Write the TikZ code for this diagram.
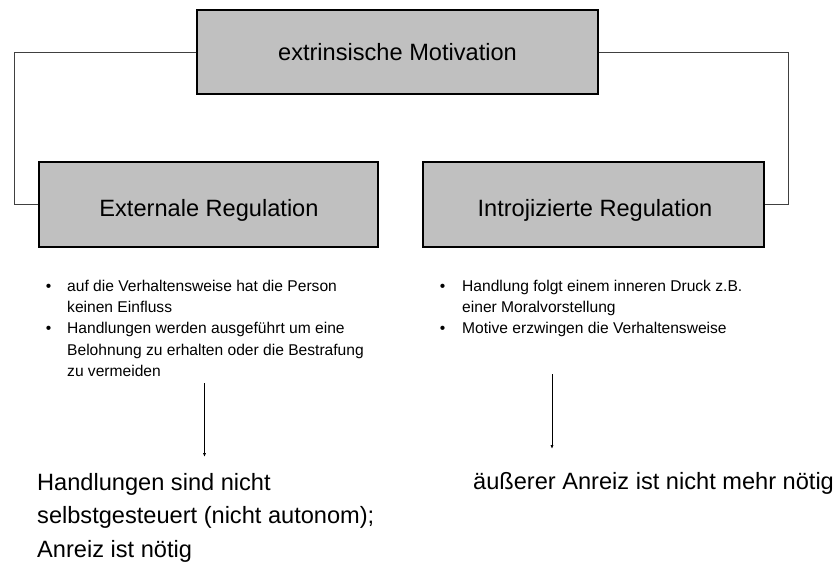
\documentclass[tikz,border=0pt]{standalone}
\usepackage{fontspec}
\setmainfont{Liberation Sans}
\usetikzlibrary{arrows.meta}
\definecolor{boxgray}{HTML}{C0C0C0}
\definecolor{linkgray}{HTML}{404040}
\begin{document}
\begin{tikzpicture}[x=1pt,y=-1pt,
  box/.style={draw=black, line width=1.1pt, fill=boxgray, inner sep=0},
  link/.style={draw=linkgray, line width=1pt},
  big/.style={font=\fontsize{23.6}{34}\selectfont, inner sep=0, anchor=base west},
  bigc/.style={font=\fontsize{23.6}{34}\selectfont, inner sep=0, anchor=base},
  small/.style={font=\fontsize{15.6}{21.4}\selectfont, inner sep=0, anchor=base west},
  dot/.style={font=\fontsize{15.6}{21.4}\selectfont, inner sep=0, anchor=base},
  arr/.style={-{Latex[length=4pt,width=3.2pt]}, line width=0.9pt, draw=black}
]
\useasboundingbox (0,0) rectangle (840,563);

% boxes
\node[box, minimum width=401pt, minimum height=84pt] (top) at (397.5,52) {};
\node[box, minimum width=339pt, minimum height=85pt] (ext) at (208.5,204.5) {};
\node[box, minimum width=341pt, minimum height=85pt] (intro) at (593.5,204.5) {};

% box titles
\node[bigc] (topT) at (397.5,60) {extrinsische Motivation};
\node[bigc] (extT) at (209,216) {Externale Regulation};
\node[bigc] (introT) at (595,216) {Introjizierte Regulation};

% bracket connectors
\draw[link] (top.west) -- ++(-182,0) |- (ext.west);
\draw[link] (top.east) -- ++(190,0) |- (intro.east);

% left bullet list
\node[dot] (lb1) at (48.5,291.5) {•};
\node[small] (l1a) at (67,291.5) {auf die Verhaltensweise hat die Person};
\node[small] (l1b) at (67,312) {keinen Einfluss};
\node[dot] (lb2) at (48.5,333.5) {•};
\node[small] (l2a) at (67,333.5) {Handlungen werden ausgeführt um eine};
\node[small] (l2b) at (67,355) {Belohnung zu erhalten oder die Bestrafung};
\node[small] (l2c) at (67,376) {zu vermeiden};

% right bullet list
\node[dot] (rb1) at (442.5,291.5) {•};
\node[small] (r1a) at (462,291.5) {Handlung folgt einem inneren Druck z.B.};
\node[small] (r1b) at (462,312) {einer Moralvorstellung};
\node[dot] (rb2) at (442.5,333.5) {•};
\node[small] (r2a) at (462,333.5) {Motive erzwingen die Verhaltensweise};

% arrows to the conclusions
\coordinate (aLs) at (204.5,383);
\coordinate (aLe) at (204.5,457);
\coordinate (aRs) at (552,374);
\coordinate (aRe) at (552,449);
\draw[arr] (aLs) -- (aLe);
\draw[arr] (aRs) -- (aRe);

% conclusions
\node[big] (c1) at (37,490) {Handlungen sind nicht};
\node[big] (c2) at (37,523.5) {selbstgesteuert (nicht autonom);};
\node[big] (c3) at (37,557) {Anreiz ist nötig};
\node[big] (cR) at (473,489) {äußerer Anreiz ist nicht mehr nötig};
\end{tikzpicture}
\end{document}
